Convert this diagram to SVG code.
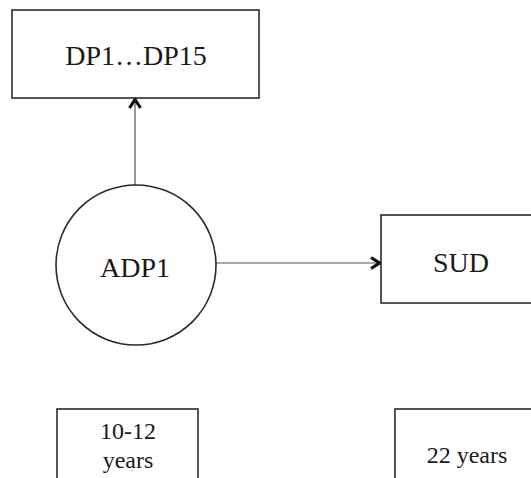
<svg xmlns="http://www.w3.org/2000/svg" width="531" height="478" viewBox="0 0 531 478">
  <style>
    .box { fill: #fff; stroke: #2b2b2b; stroke-width: 1.6; }
    .lbl { fill: #1a1a1a; text-anchor: middle; }
    .big { font-size: 28px; }
    .small { font-size: 24px; }
    .conn { stroke: #555; stroke-width: 1.2; fill: none; }
  </style>
  <defs>
    <marker id="chev" viewBox="0 0 12 14" refX="11" refY="7" markerWidth="12" markerHeight="14" markerUnits="userSpaceOnUse" orient="auto">
      <path d="M2,1.5 L10.5,7 L2,12.5" fill="none" stroke="#111" stroke-width="3.2" stroke-linejoin="miter"/>
    </marker>
  </defs>
  <rect width="531" height="478" fill="#fff"/>

  <g id="connectors">
    <line class="conn" x1="135" y1="185" x2="135" y2="99" marker-end="url(#chev)"/>
    <line class="conn" x1="216" y1="263" x2="380" y2="263" marker-end="url(#chev)"/>
  </g>

  <g font-family="'Liberation Serif', 'Times New Roman', Times, serif">
    <g id="dp-box">
      <rect class="box" x="12" y="10" width="247" height="88"/>
      <text class="lbl big" x="136" y="65">DP1…DP15</text>
    </g>

    <g id="adp1">
      <circle class="box" cx="136" cy="265" r="80"/>
      <text class="lbl big" x="135" y="277">ADP1</text>
    </g>

    <g id="sud-box">
      <rect class="box" x="381" y="215" width="160" height="88"/>
      <text class="lbl big" x="461" y="272">SUD</text>
    </g>

    <g id="age-10-12">
      <rect class="box" x="57" y="409" width="141" height="80"/>
      <text class="lbl small" x="128" y="439">10-12</text>
      <text class="lbl small" x="128" y="468">years</text>
    </g>

    <g id="age-22">
      <rect class="box" x="395" y="409" width="150" height="80"/>
      <text class="lbl small" x="467" y="463">22 years</text>
    </g>
  </g>
</svg>
